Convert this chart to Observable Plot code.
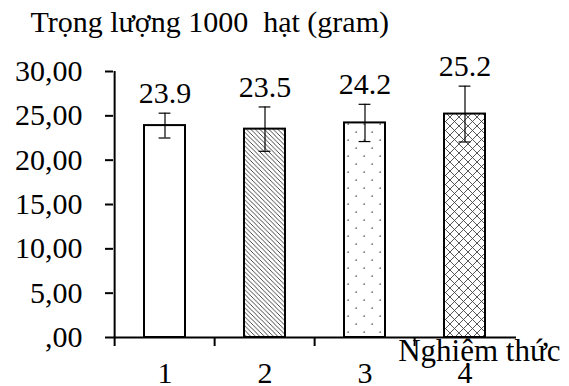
<!DOCTYPE html>
<html>
<head>
<meta charset="utf-8">
<script src="https://cdn.jsdelivr.net/npm/d3@7"></script>
<script src="https://cdn.jsdelivr.net/npm/@observablehq/plot@0.6"></script>
<style>
  html, body { margin: 0; padding: 0; background: white; }
  svg text { font-family: "Liberation Serif", "Times New Roman", serif !important; }
</style>
</head>
<body>
<div id="chart"></div>
<script>
// ---- data ----
const categories = ["1", "2", "3", "4"];
const means = [23.9, 23.5, 24.2, 25.2];
const errors = [1.4, 2.5, 2.1, 3.15];
const valueLabels = ["23.9", "23.5", "24.2", "25.2"];
const yTicks = [0, 5, 10, 15, 20, 25, 30];
const yTickLabels = [",00", "5,00", "10,00", "15,00", "20,00", "25,00", "30,00"];
const titleText = "Trọng lượng 1000  hạt (gram)";
const xTitleText = "Nghiệm thức";

// ---- layout / style ----
const W = 569, H = 386;
const mL = 113, mR = 53, mT = 71, mB = 49;
const padInner = 0.59, padOuter = 0.295;
const step = (W - mL - mR) / (categories.length - padInner + 2 * padOuter);
const patternFor = ["white", "url(#hatch)", "url(#dots)", "url(#cross)"];
const font = "Liberation Serif";

const data = categories.map((k, i) => ({k, mean: means[i], err: errors[i], label: valueLabels[i], i}));

const plot = Plot.plot({
  width: W,
  height: H,
  marginLeft: mL,
  marginRight: mR,
  marginTop: mT,
  marginBottom: mB,
  style: {fontFamily: font, fontSize: "30px", background: "white", color: "black", overflow: "visible"},
  x: {type: "band", domain: categories, paddingInner: padInner, paddingOuter: padOuter},
  y: {domain: [0, 30]},
  color: {type: "identity"},
  marks: [
    Plot.barY(data, {x: "k", y: "mean", fill: d => patternFor[d.i], stroke: "black", strokeWidth: 2}),
    Plot.ruleX(data, {x: "k", y1: d => d.mean - d.err, y2: d => d.mean + d.err, stroke: "black", strokeWidth: 1.2}),
    Plot.tickY(data, {x: "k", y: d => d.mean - d.err, insetLeft: 14.6, insetRight: 14.6, stroke: "black", strokeWidth: 1.2}),
    Plot.tickY(data, {x: "k", y: d => d.mean + d.err, insetLeft: 14.6, insetRight: 14.6, stroke: "black", strokeWidth: 1.2}),
    Plot.text(data, {x: "k", y: d => d.mean + d.err, text: "label", dy: -10, lineAnchor: "bottom", fontSize: 30, fontFamily: font}),
    // y axis
    Plot.axisY({ticks: yTicks, tickFormat: (d) => yTickLabels[yTicks.indexOf(d)], tickSize: 8, tickPadding: 23, strokeWidth: 2, fontSize: 30, fontFamily: font, label: null}),
    Plot.ruleX([categories[0]], {dx: -step / 2, y1: 0, y2: 30, stroke: "black", strokeWidth: 2}),
    // x axis
    Plot.ruleY([0], {stroke: "black", strokeWidth: 2}),
    Plot.axisX({tickSize: 9, dx: -step / 2, tickFormat: () => "", strokeWidth: 2, label: null}),
    Plot.axisX({tickSize: 0, tickPadding: 24, fontSize: 30, fontFamily: font, label: null}),
    // titles
    Plot.text([titleText], {frameAnchor: "top-left", dx: -83, dy: -40, textAnchor: "start", lineAnchor: "bottom", fontSize: 30, fontFamily: font}),
    Plot.text([xTitleText], {frameAnchor: "bottom-right", dx: 44, dy: 23, textAnchor: "end", lineAnchor: "bottom", fontSize: 31, fontFamily: font})
  ]
});

plot.insertAdjacentHTML("afterbegin", `
<defs>
  <pattern id="hatch" patternUnits="userSpaceOnUse" width="4.5" height="4.5">
    <rect width="4.5" height="4.5" fill="white"/>
    <path d="M0,0L4.5,4.5M-1,3.5L1,5.5M3.5,-1L5.5,1" stroke="#333" stroke-width="0.9"/>
  </pattern>
  <pattern id="dots" patternUnits="userSpaceOnUse" width="16" height="16">
    <rect width="16" height="16" fill="white"/>
    <rect x="3.5" y="3.5" width="1.3" height="1.3" fill="#333"/>
    <rect x="11.5" y="11.5" width="1.3" height="1.3" fill="#333"/>
  </pattern>
  <pattern id="cross" patternUnits="userSpaceOnUse" width="9" height="9">
    <rect width="9" height="9" fill="white"/>
    <path d="M0,0L9,9M9,0L0,9" stroke="#444" stroke-width="0.9"/>
  </pattern>
</defs>`);

document.getElementById("chart").appendChild(plot);
</script>
</body>
</html>
